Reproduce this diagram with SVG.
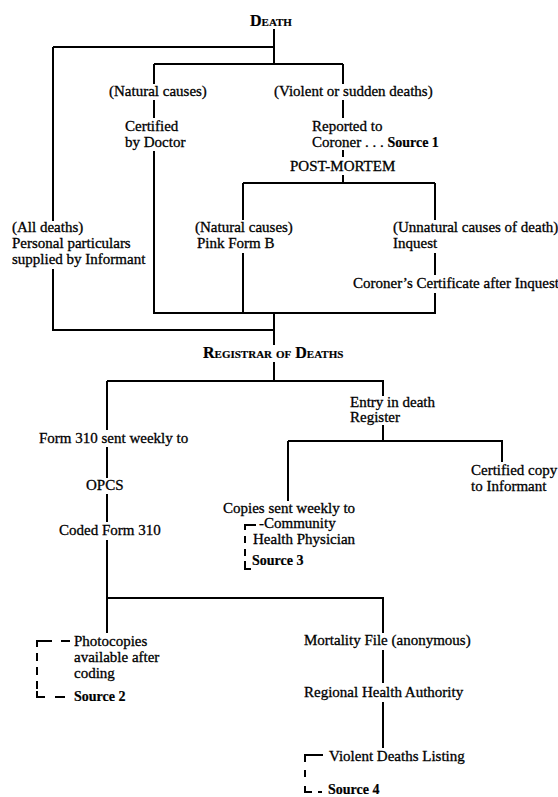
<svg xmlns="http://www.w3.org/2000/svg" width="558" height="797" viewBox="0 0 558 797">
<style>
text{font-family:"Liberation Serif","Times New Roman",serif;font-size:15px;fill:#000;stroke:#000;stroke-width:0.3}
.sc{font-variant:small-caps;font-weight:bold;font-size:16px;stroke-width:0.2}
.src{font-weight:bold;font-size:14px;stroke-width:0.2}
.ln{fill:none;stroke:#000;stroke-width:2}
.br{fill:none;stroke:#000;stroke-width:2}
</style>
<rect width="558" height="797" fill="#fff"/>
<g id="connectors" class="ln">
<path d="M274 29V64M53 47H274M154 64H343"/>
<path d="M53 47V221M53 269V330H274"/>
<path d="M154 64V84M154 100V118M154 151V313H435V293"/>
<path d="M343 64V84M343 100V118M343 150V157M343 175V183M243 183H435M243 183V220M243 253V313M435 183V220M435 253V275"/>
<path d="M274 313V345M274 362V381M107 381H383V396"/>
<path d="M383 425V441M288 441H502V462M288 441V501"/>
<path d="M107 381V430M107 447V478M107 494V522M107 540V598H383V633M107 598V633"/>
<path d="M383 650V683M383 702V748"/>
</g>
<g id="brackets" class="br">
<path d="M52 641H37V647M37 653V661M37 667V675M37 681V689M37 691V697H45M61 641H70M55 697H65"/>
<path d="M256 525H245V530M245 536V543M245 549V556M245 561V569H251"/>
<path d="M323 755H305V762M305 770V777M305 786V792H312M318 792H322"/>
</g>
<g id="death"><text class="sc" x="250" y="26">Death</text></g>
<g id="natural"><text x="109" y="96">(Natural causes)</text></g>
<g id="violent"><text x="274" y="96">(Violent or sudden deaths)</text></g>
<g id="certified"><text x="125" y="131">Certified</text><text x="125" y="147">by Doctor</text></g>
<g id="reported"><text x="312" y="131">Reported to</text><text x="312" y="147">Coroner . . . <tspan class="src">Source 1</tspan></text></g>
<g id="postmortem"><text x="290" y="171">POST-MORTEM</text></g>
<g id="alldeaths"><text x="12" y="232">(All deaths)</text><text x="12" y="248">Personal particulars</text><text x="12" y="264">supplied by Informant</text></g>
<g id="pinkform"><text x="195" y="232">(Natural causes)</text><text x="197" y="248">Pink Form B</text></g>
<g id="unnatural"><text x="393" y="232">(Unnatural causes of death)</text><text x="393" y="248">Inquest</text></g>
<g id="coronercert"><text x="353" y="288">Coroner’s Certificate after Inquest</text></g>
<g id="registrar"><text class="sc" x="203" y="358">Registrar of Deaths</text></g>
<g id="entry"><text x="350" y="407">Entry in death</text><text x="350" y="422">Register</text></g>
<g id="form310"><text x="39" y="443">Form 310 sent weekly to</text></g>
<g id="opcs"><text x="86" y="490">OPCS</text></g>
<g id="coded"><text x="59" y="535">Coded Form 310</text></g>
<g id="certcopy"><text x="471" y="475">Certified copy</text><text x="471" y="491">to Informant</text></g>
<g id="copies"><text x="223" y="513">Copies sent weekly to</text><text x="259" y="528">-Community</text><text x="253" y="544">Health Physician</text><text class="src" x="252" y="565">Source 3</text></g>
<g id="photocopies"><text x="74" y="646">Photocopies</text><text x="74" y="662">available after</text><text x="74" y="678">coding</text><text class="src" x="74" y="701">Source 2</text></g>
<g id="mortality"><text x="304" y="645">Mortality File (anonymous)</text></g>
<g id="rha"><text x="304" y="697">Regional Health Authority</text></g>
<g id="violentlisting"><text x="329" y="761">Violent Deaths Listing</text><text class="src" x="328" y="794">Source 4</text></g>
</svg>
